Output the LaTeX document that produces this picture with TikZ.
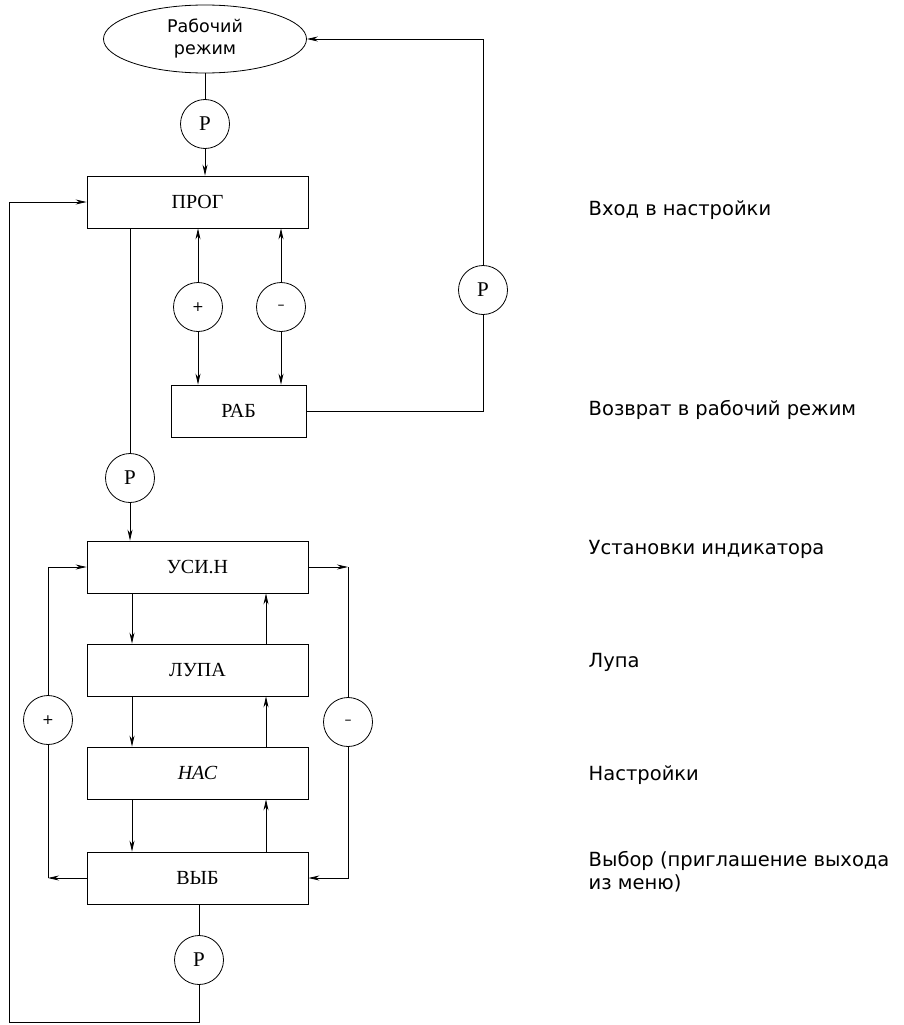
\documentclass[tikz,border=0pt]{standalone}
\usepackage{fontspec}
\setmainfont{Liberation Serif}
\setsansfont{DejaVu Sans}
\setmonofont{Liberation Mono}
\usetikzlibrary{arrows.meta,shapes.geometric}

\begin{document}
\begin{tikzpicture}[
    x=1pt, y=-1pt,
    >={Stealth[length=11pt,width=5pt]},
    line width=0.8pt,
    box/.style={draw, minimum width=221pt, minimum height=52pt, inner sep=0pt,
        font=\fontsize{20}{22}\selectfont},
    knob/.style={draw, circle, minimum size=49pt, inner sep=0pt,
        font=\rmfamily\fontsize{21}{24}\selectfont},
    sign/.style={knob, font=\sffamily\fontsize{14}{16}\selectfont},
    note/.style={anchor=west, align=left, font=\sffamily\fontsize{19.5}{23}\selectfont}
]
\useasboundingbox (0,0) rectangle (904,1025);

% Working mode and entry
\node[draw, ellipse, minimum width=203pt, minimum height=68pt, inner sep=0pt,
    align=center, font=\sffamily\fontsize{17.5}{22}\selectfont] (work) at (205,39) {Рабочий\\режим};
\node[knob] (p1) at (205,124) {P};
\node[box] (prog) at (197.5,202) {ПРОГ};

% Return to working mode
\node[sign] (plus1) at (198,307) {+};
\node[sign] (minus1) at (281,307) {–};
\node[box, minimum width=135pt] (rab) at (238.5,411) {РАБ};
\node[knob] (p2) at (483,290) {P};

% Menu
\node[knob] (p3) at (130,478) {P};
\node[box] (usin) at (197.5,567) {УСИ.Н};
\node[box] (lupa) at (197.5,670) {ЛУПА};
\node[box] (nas) at (197.5,773) {\itshape НАС};
\node[box] (vyb) at (197.5,878) {ВЫБ};
\node[sign] (plus2) at (48,720) {+};
\node[sign] (minus2) at (348,722) {–};
\node[knob] (p4) at (199,960) {P};
\coordinate (back) at (9,1022);

% Connectors
\draw (work) -- (p1);
\draw[->] (p1) -- (p1 |- prog.north);
\draw[->] (plus1) -- (plus1 |- prog.south);
\draw[->] (plus1) -- (plus1 |- rab.north);
\draw[->] (minus1) -- (minus1 |- prog.south);
\draw[->] (minus1) -- (minus1 |- rab.north);
\draw (rab.east) -| (p2);
\draw[->] (p2) |- (work.east);
\draw (prog.south -| p3) -- (p3);
\draw[->] (p3) -- (p3 |- usin.north);

\draw[->] ([xshift=-65.5pt]usin.south) -- ([xshift=-65.5pt]lupa.north);
\draw[->] ([xshift=-65.5pt]lupa.south) -- ([xshift=-65.5pt]nas.north);
\draw[->] ([xshift=-65.5pt]nas.south) -- ([xshift=-65.5pt]vyb.north);
\draw[->] ([xshift=68.5pt]vyb.north) -- ([xshift=68.5pt]nas.south);
\draw[->] ([xshift=68.5pt]nas.north) -- ([xshift=68.5pt]lupa.south);
\draw[->] ([xshift=68.5pt]lupa.north) -- ([xshift=68.5pt]usin.south);

\draw[->] (vyb.west) -- (vyb.west -| plus2);
\draw (vyb.west -| plus2) -- (plus2);
\draw[->] (plus2) |- (usin.west);
\draw[->] (usin.east) -- (usin.east -| minus2);
\draw (usin.east -| minus2) -- (minus2);
\draw[->] (minus2) |- (vyb.east);

\draw (vyb.south -| p4) -- (p4);
\draw[->] (p4) |- (back) |- (prog.west);

% Notes
\node[note] (t1) at (585,210) {Вход в настройки};
\node[note] (t2) at (585,410) {Возврат в рабочий режим};
\node[note] (t3) at (585,549) {Установки индикатора};
\node[note] (t4) at (585,662) {Лупа};
\node[note] (t5) at (585,775) {Настройки};
\node[note] (t6) at (585,872) {Выбор (приглашение выхода\\из меню)};

\end{tikzpicture}
\end{document}
